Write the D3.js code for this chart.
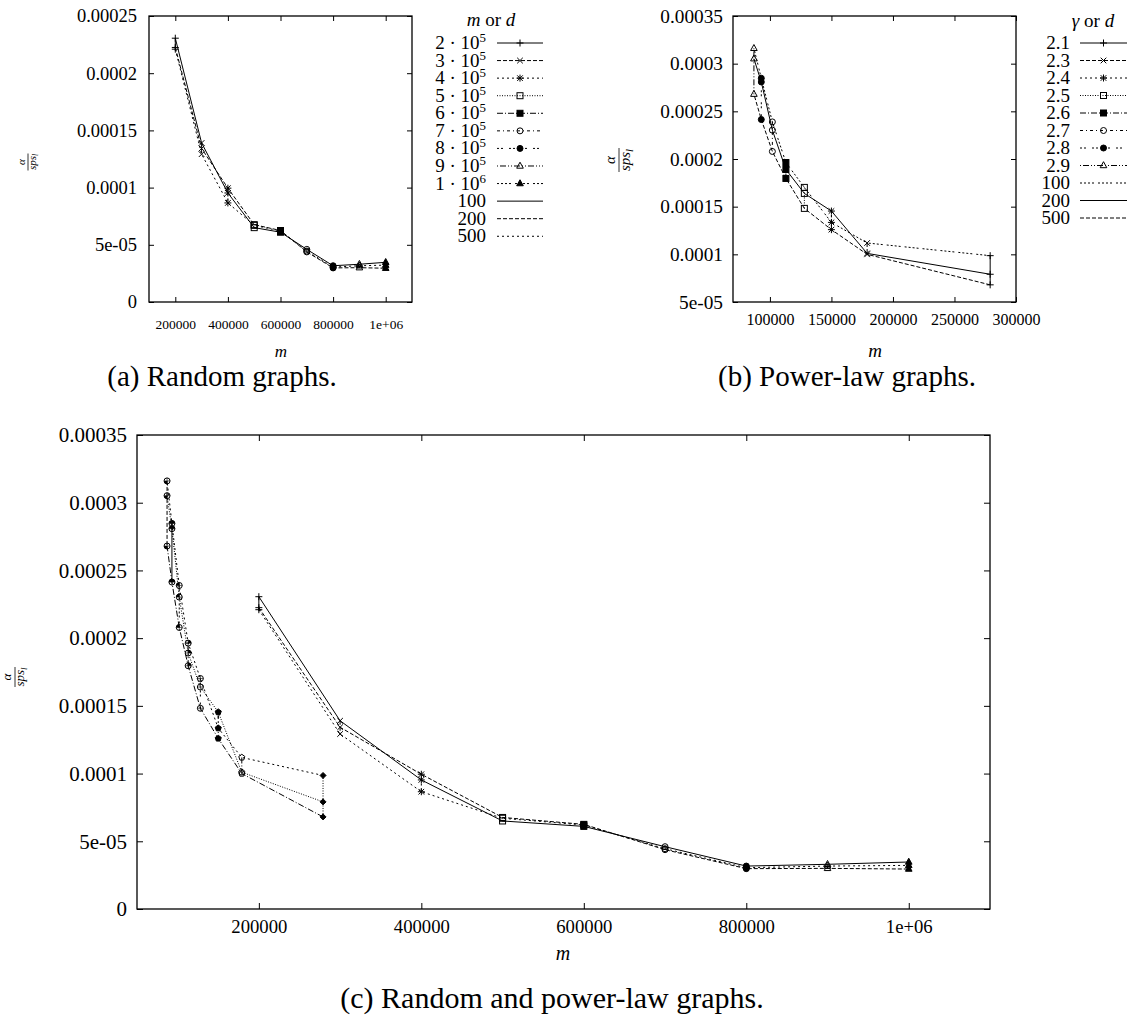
<!DOCTYPE html>
<html>
<head>
<meta charset="utf-8" />
<script src="https://d3js.org/d3.v7.min.js"></script>
<style>
  body { margin: 0; background: #fff; }
  svg { display: block; }
  svg text { font-family: "Liberation Serif", "DejaVu Serif", serif !important; }
</style>
</head>
<body>
<script>
// random graphs: one value per d (100, 200, 500) at each m
var randomM = [200000, 300000, 400000, 500000, 600000, 700000, 800000, 900000, 1000000];
var randomMant = ["2", "3", "4", "5", "6", "7", "8", "9", "1"];
var randomExp = ["5", "5", "5", "5", "5", "5", "5", "5", "6"];
var randomD100 = [2.306e-4, 1.390e-4, 0.953e-4, 0.650e-4, 0.610e-4, 0.460e-4, 0.317e-4, 0.330e-4, 0.347e-4];
var randomD200 = [2.225e-4, 1.342e-4, 0.995e-4, 0.676e-4, 0.625e-4, 0.438e-4, 0.298e-4, 0.300e-4, 0.295e-4];
var randomD500 = [2.210e-4, 1.292e-4, 0.866e-4, 0.670e-4, 0.620e-4, 0.445e-4, 0.305e-4, 0.317e-4, 0.322e-4];

// power-law graphs
var powerGamma = ["2.1", "2.3", "2.4", "2.5", "2.6", "2.7", "2.8", "2.9"];
var powerM = [279000, 179000, 150000, 128000, 113000, 102000, 93000, 87000];
var powerD100 = [0.986e-4, 1.119e-4, 1.335e-4, 1.702e-4, 1.963e-4, 2.389e-4, 2.847e-4, 3.161e-4];
var powerD200 = [0.791e-4, 1.010e-4, 1.454e-4, 1.639e-4, 1.890e-4, 2.303e-4, 2.808e-4, 3.052e-4];
var powerD500 = [0.680e-4, 1.000e-4, 1.259e-4, 1.482e-4, 1.796e-4, 2.079e-4, 2.414e-4, 2.680e-4];

var dNames = ["100", "200", "500"];

// ticks
var aTicksX = [200000, 400000, 600000, 800000, 1000000];
var aLabelsX = ["200000", "400000", "600000", "800000", "1e+06"];
var aTicksY = [0, 5e-5, 1e-4, 1.5e-4, 2e-4, 2.5e-4];
var aLabelsY = ["0", "5e-05", "0.0001", "0.00015", "0.0002", "0.00025"];
var bTicksX = [100000, 150000, 200000, 250000, 300000];
var bLabelsX = ["100000", "150000", "200000", "250000", "300000"];
var bTicksY = [5e-5, 1e-4, 1.5e-4, 2e-4, 2.5e-4, 3e-4, 3.5e-4];
var bLabelsY = ["5e-05", "0.0001", "0.00015", "0.0002", "0.00025", "0.0003", "0.00035"];
var cTicksX = [200000, 400000, 600000, 800000, 1000000];
var cLabelsX = ["200000", "400000", "600000", "800000", "1e+06"];
var cTicksY = [0, 5e-5, 1e-4, 1.5e-4, 2e-4, 2.5e-4, 3e-4, 3.5e-4];
var cLabelsY = ["0", "5e-05", "0.0001", "0.00015", "0.0002", "0.00025", "0.0003", "0.00035"];

// gnuplot-like dash types and point types
var LT = [null, "4,2", "2,3", "1,1.5", "6,2,1,2", "3,3,1,3", "2,2,2,6", "1,2,6,2,1,2", "2,2,2,2,2,2,2,4"];
var marks = ["plus", "cross", "star", "box", "boxF", "circle", "circleF", "triU", "triUF"];
var marksC = ["diaF", "pent", "pentF", "C0", "C1", "C2", "C3", "C4"];

var serif = '"Liberation Serif", "DejaVu Serif", serif';
var svg = d3.select("body").append("svg").attr("width", 1133).attr("height", 1019)
    .attr("font-family", serif);

function marker(g, type, cx, cy) {
    var s = 3.5;
    var m = g.append("g").attr("transform", "translate(" + cx + "," + cy + ")")
        .attr("stroke", "#000").attr("stroke-width", 1).attr("fill", "none");
    var plus = "M" + (-s) + ",0H" + s + "M0," + (-s) + "V" + s;
    var c = s * 0.8;
    var cross = "M" + (-c) + "," + (-c) + "L" + c + "," + c + "M" + (-c) + "," + c + "L" + c + "," + (-c);
    if (type == "plus") m.append("path").attr("d", plus);
    else if (type == "cross") m.append("path").attr("d", cross);
    else if (type == "star") m.append("path").attr("d", plus + cross);
    else if (type == "box" || type == "boxF") {
        m.append("rect").attr("x", -3).attr("y", -3).attr("width", 6).attr("height", 6)
            .attr("fill", type == "boxF" ? "#000" : "none");
    }
    else if (type == "circle" || type == "circleF") {
        m.append("circle").attr("r", 3).attr("fill", type == "circleF" ? "#000" : "none");
    }
    else if (type == "triU" || type == "triUF") {
        m.append("path").attr("d", "M0,-3.8L3.3,2.2L-3.3,2.2Z").attr("fill", type == "triUF" ? "#000" : "none");
    }
    else if (type == "diaF") {
        m.append("path").attr("d", "M0,-3L3,0L0,3L-3,0Z").attr("fill", "#000");
    }
    else if (type == "pent" || type == "pentF") {
        var pts = d3.range(5).map(function (k) {
            var a = -Math.PI / 2 + k * 2 * Math.PI / 5;
            return [3.2 * Math.cos(a), 3.2 * Math.sin(a)];
        });
        m.append("path").attr("d", "M" + pts.join("L") + "Z").attr("fill", type == "pentF" ? "#000" : "none");
    }
    else {
        var n = +type.slice(1);
        var quads = [[0, Math.PI / 2], [-Math.PI / 2, 0], [Math.PI, 1.5 * Math.PI], [Math.PI / 2, Math.PI]];
        var arc = d3.arc().innerRadius(0).outerRadius(3);
        quads.forEach(function (q, k) {
            if (n & (1 << k)) m.append("path").attr("d", arc({ startAngle: q[0], endAngle: q[1] }))
                .attr("fill", "#000").attr("stroke", "none");
        });
        m.append("circle").attr("r", 3);
        m.append("path").attr("d", "M-3,0H3M0,-3V3").attr("stroke-width", 0.6);
    }
}

function pointSeries(ms, v1, v2, v3, dashes, mk) {
    return ms.map(function (m, i) {
        return { pts: [[m, v1[i]], [m, v2[i]], [m, v3[i]]], dash: dashes[i], mark: mk[i] };
    });
}
function lineSeries(ms, vals, dash) {
    return { pts: ms.map(function (m, i) { return [m, vals[i]]; }), dash: dash, mark: null };
}

function panel(cfg) {
    var x = d3.scaleLinear().domain(cfg.xDom).range([cfg.left, cfg.right]);
    var y = d3.scaleLinear().domain(cfg.yDom).range([cfg.bottom, cfg.top]);
    var g = svg.append("g");

    function style(a, fs) {
        a.attr("font-family", serif).attr("font-size", fs);
        a.select(".domain").remove();
        a.selectAll(".tick line").attr("stroke", "#000");
    }
    g.append("g").attr("transform", "translate(0," + cfg.bottom + ")")
        .call(d3.axisBottom(x).tickValues(cfg.xTicks).tickFormat(function (d, i) { return cfg.xLabels[i]; })
            .tickSizeInner(-cfg.tick).tickSizeOuter(0).tickPadding(cfg.xPad))
        .call(style, cfg.xFont);
    g.append("g").attr("transform", "translate(0," + cfg.top + ")")
        .call(d3.axisTop(x).tickValues(cfg.xTicks).tickFormat("").tickSizeInner(-cfg.tick).tickSizeOuter(0))
        .call(style, cfg.xFont);
    g.append("g").attr("transform", "translate(" + cfg.left + ",0)")
        .call(d3.axisLeft(y).tickValues(cfg.yTicks).tickFormat(function (d, i) { return cfg.yLabels[i]; })
            .tickSizeInner(-cfg.tick).tickSizeOuter(0).tickPadding(cfg.yPad))
        .call(style, cfg.yFont);
    g.append("g").attr("transform", "translate(" + cfg.right + ",0)")
        .call(d3.axisRight(y).tickValues(cfg.yTicks).tickFormat("").tickSizeInner(-cfg.tick).tickSizeOuter(0))
        .call(style, cfg.yFont);

    var line = d3.line().x(function (p) { return x(p[0]); }).y(function (p) { return y(p[1]); });
    cfg.series.forEach(function (s) {
        g.append("path").datum(s.pts).attr("d", line).attr("fill", "none")
            .attr("stroke", "#000").attr("stroke-width", 1).attr("stroke-dasharray", s.dash);
        if (s.mark) s.pts.forEach(function (p) { marker(g, s.mark, x(p[0]), y(p[1])); });
    });

    g.append("rect").attr("x", cfg.left).attr("y", cfg.top)
        .attr("width", cfg.right - cfg.left).attr("height", cfg.bottom - cfg.top)
        .attr("fill", "none").attr("stroke", "#000").attr("stroke-width", 1.3);

    // x label
    g.append("text").attr("x", cfg.mX).attr("y", cfg.mY).attr("text-anchor", "middle")
        .attr("font-style", "italic").attr("font-size", cfg.mFont).text("m");

    // y label: alpha over sps_l, rotated
    var f = g.append("g").attr("transform", "translate(" + cfg.fX + "," + cfg.fY + ") rotate(-90)")
        .attr("font-style", "italic").attr("font-size", cfg.fFont);
    f.append("text").attr("y", -cfg.fFont * 0.3).attr("text-anchor", "middle").text("α");
    f.append("line").attr("x1", -cfg.fBar / 2).attr("x2", cfg.fBar / 2)
        .attr("stroke", "#000").attr("stroke-width", 0.8);
    var t = f.append("text").attr("y", cfg.fFont * 0.72).attr("text-anchor", "middle");
    t.append("tspan").text("sps");
    t.append("tspan").attr("dy", cfg.fFont * 0.22).attr("font-size", cfg.fFont * 0.7).text("l");

    // caption
    svg.append("text").attr("x", cfg.capX).attr("y", cfg.capY).attr("text-anchor", "middle")
        .attr("font-size", cfg.capFont).text(cfg.caption);
}

function legend(cfg) {
    var g = svg.append("g").attr("font-size", cfg.font);
    var tt = g.append("text").attr("x", cfg.titleX).attr("y", cfg.titleY).attr("text-anchor", "middle");
    tt.append("tspan").attr("font-style", "italic").text(cfg.sym);
    tt.append("tspan").text(" or ");
    tt.append("tspan").attr("font-style", "italic").text("d");
    cfg.entries.forEach(function (e, i) {
        var cy = cfg.y0 + i * cfg.dy;
        var t = g.append("text").attr("x", cfg.labelX).attr("y", cy + 6).attr("text-anchor", "end");
        if (e.exp) {
            t.append("tspan").text(e.label + " · 10");
            t.append("tspan").attr("dy", -7).attr("font-size", cfg.font * 0.68).text(e.exp);
        } else t.text(e.label);
        g.append("line").attr("x1", cfg.x0).attr("x2", cfg.x1).attr("y1", cy).attr("y2", cy)
            .attr("stroke", "#000").attr("stroke-width", 1).attr("stroke-dasharray", e.dash);
        if (e.mark) marker(g, e.mark, (cfg.x0 + cfg.x1) / 2, cy);
    });
}

// (a) random graphs
var seriesA = pointSeries(randomM, randomD100, randomD200, randomD500, LT, marks)
    .concat([lineSeries(randomM, randomD100, LT[0]), lineSeries(randomM, randomD200, LT[1]),
        lineSeries(randomM, randomD500, LT[2])]);
panel({
    left: 149, right: 412, top: 16, bottom: 302, xDom: [100000, 1100000], yDom: [0, 2.5e-4],
    xTicks: aTicksX, xLabels: aLabelsX, yTicks: aTicksY, yLabels: aLabelsY,
    tick: 5, xPad: 17, yPad: 12, xFont: 13.5, yFont: 18.5,
    mX: 281, mY: 357, mFont: 17, fX: 28, fY: 162, fFont: 11, fBar: 17,
    caption: "(a) Random graphs.", capX: 222, capY: 386, capFont: 29,
    series: seriesA
});
legend({
    font: 19, sym: "m", titleX: 491, titleY: 26, labelX: 486, y0: 43, dy: 17.57, x0: 497, x1: 543,
    entries: randomM.map(function (m, i) { return { label: randomMant[i], exp: randomExp[i], dash: LT[i], mark: marks[i] }; })
        .concat(dNames.map(function (d, j) { return { label: d, dash: LT[j], mark: null }; }))
});

// (b) power-law graphs
var dashB = [LT[8], LT[0], LT[1]];
var seriesB = pointSeries(powerM, powerD100, powerD200, powerD500, LT, marks)
    .concat([lineSeries(powerM, powerD100, dashB[0]), lineSeries(powerM, powerD200, dashB[1]),
        lineSeries(powerM, powerD500, dashB[2])]);
panel({
    left: 733, right: 1016, top: 16, bottom: 302, xDom: [70000, 300000], yDom: [5e-5, 3.5e-4],
    xTicks: bTicksX, xLabels: bLabelsX, yTicks: bTicksY, yLabels: bLabelsY,
    tick: 5, xPad: 12, yPad: 10, xFont: 16, yFont: 19.3,
    mX: 875, mY: 357, mFont: 19, fX: 619, fY: 160, fFont: 15, fBar: 24,
    caption: "(b) Power-law graphs.", capX: 847, capY: 386, capFont: 29,
    series: seriesB
});
legend({
    font: 19, sym: "γ", titleX: 1093, titleY: 27, labelX: 1070, y0: 43, dy: 17.5, x0: 1080, x1: 1127,
    entries: powerGamma.map(function (gm, i) { return { label: gm, dash: LT[i], mark: marks[i] }; })
        .concat(dNames.map(function (d, j) { return { label: d, dash: dashB[j], mark: null }; }))
});

// (c) both
var dashCp = powerGamma.map(function (gm, i) { return LT[(12 + i) % 9]; });
var seriesC = pointSeries(randomM, randomD100, randomD200, randomD500, LT, marks)
    .concat([lineSeries(randomM, randomD100, LT[0]), lineSeries(randomM, randomD200, LT[1]),
        lineSeries(randomM, randomD500, LT[2])])
    .concat(pointSeries(powerM, powerD100, powerD200, powerD500, dashCp, marksC))
    .concat([lineSeries(powerM, powerD100, LT[2]), lineSeries(powerM, powerD200, LT[3]),
        lineSeries(powerM, powerD500, LT[4])]);
panel({
    left: 137, right: 990, top: 435, bottom: 909, xDom: [50000, 1100000], yDom: [0, 3.5e-4],
    xTicks: cTicksX, xLabels: cLabelsX, yTicks: cTicksY, yLabels: cLabelsY,
    tick: 6, xPad: 11, yPad: 10, xFont: 18.7, yFont: 21,
    mX: 563, mY: 960, mFont: 20, fX: 15, fY: 677, fFont: 13, fBar: 20,
    caption: "(c) Random and power-law graphs.", capX: 552, capY: 1008, capFont: 30,
    series: seriesC
});
</script>
</body>
</html>
